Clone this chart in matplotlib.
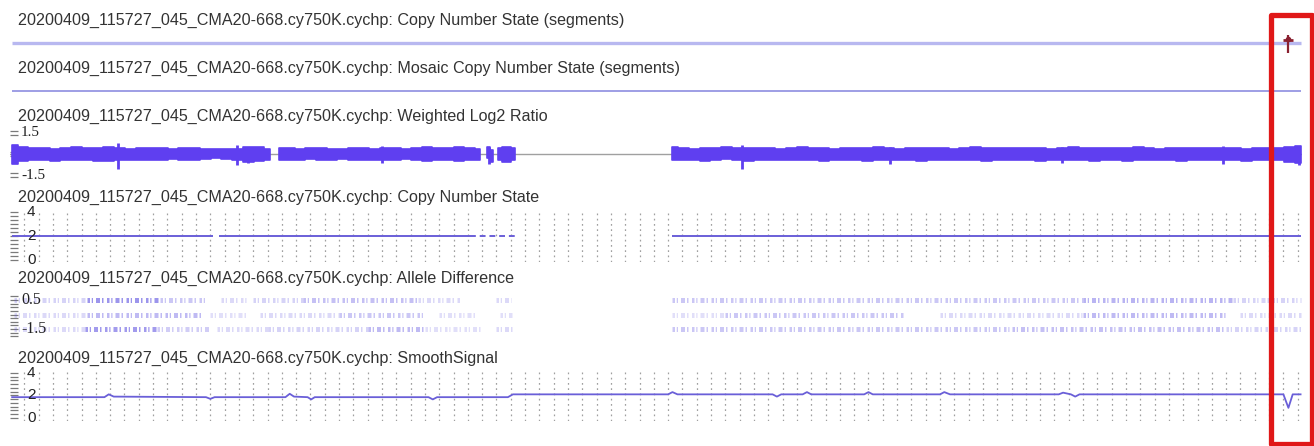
import numpy as np
import matplotlib
matplotlib.use("Agg")
import matplotlib.pyplot as plt
from matplotlib.patches import Rectangle

# ---------------- data ----------------
sample_prefix = "20200409_115727_045_CMA20-668.cy750K.cychp: "
track_titles = ["Copy Number State (segments)", "Mosaic Copy Number State (segments)",
                "Weighted Log2 Ratio", "Copy Number State", "Allele Difference", "SmoothSignal"]

chrom_len = 180.6                      # Mb shown
grid_x = list(range(2, 181, 2))        # dotted gridline positions (Mb)

# segment tracks
seg_start, seg_end, seg_value = 0.3, 180.4, 2
loss_marker_pos = 178.7

# weighted log2 ratio: band envelope read per data block (start, end, upper, lower)
log2_A = (0.3, 36.3,
          [0.62, 0.48, 0.40, 0.44, 0.36, 0.42, 0.46, 0.38, 0.43, 0.50, 0.41, 0.37, 0.44,
           0.38, 0.41, 0.35, 0.39, 0.43, 0.37, 0.34, 0.31, 0.36, 0.46, 0.50, 0.36],
          [-0.66, -0.46, -0.41, -0.38, -0.46, -0.40, -0.39, -0.43, -0.46, -0.50, -0.42, -0.38, -0.41,
           -0.43, -0.38, -0.36, -0.41, -0.38, -0.35, -0.30, -0.33, -0.41, -0.55, -0.50, -0.40])
log2_B = (37.6, 65.7,
          [0.38, 0.42, 0.36, 0.40, 0.44, 0.37, 0.35, 0.41, 0.39, 0.36,
           0.43, 0.40, 0.37, 0.42, 0.45, 0.38, 0.41, 0.47, 0.40, 0.36],
          [-0.40, -0.44, -0.38, -0.36, -0.42, -0.39, -0.37, -0.43, -0.40, -0.38,
           -0.41, -0.44, -0.37, -0.40, -0.46, -0.39, -0.42, -0.48, -0.41, -0.38])
log2_C = (66.7, 67.5, [0.45, 0.30], [-0.30, -0.55])
log2_D = (68.2, 70.6, [0.42, 0.50, 0.44], [-0.44, -0.52, -0.40])
log2_E = (92.6, 180.4,
          [0.46, 0.40, 0.37, 0.43, 0.39, 0.45, 0.41, 0.38, 0.44, 0.40,
           0.36, 0.42, 0.47, 0.39, 0.41, 0.37, 0.43, 0.40, 0.38, 0.45,
           0.42, 0.36, 0.40, 0.44, 0.39, 0.41, 0.37, 0.43, 0.46, 0.40,
           0.38, 0.42, 0.39, 0.44, 0.41, 0.37, 0.40, 0.45, 0.42, 0.38,
           0.41, 0.39, 0.43, 0.47, 0.40, 0.37, 0.42, 0.39, 0.44, 0.41,
           0.38, 0.40, 0.43, 0.37, 0.41, 0.39, 0.44, 0.46, 0.55],
          [-0.44, -0.41, -0.38, -0.45, -0.40, -0.37, -0.43, -0.46, -0.39, -0.42,
           -0.40, -0.44, -0.38, -0.41, -0.47, -0.39, -0.42, -0.40, -0.45, -0.38,
           -0.41, -0.43, -0.39, -0.46, -0.40, -0.38, -0.44, -0.41, -0.39, -0.45,
           -0.42, -0.38, -0.44, -0.40, -0.47, -0.41, -0.39, -0.43, -0.40, -0.46,
           -0.38, -0.42, -0.45, -0.40, -0.39, -0.44, -0.41, -0.48, -0.40, -0.43,
           -0.39, -0.42, -0.40, -0.45, -0.38, -0.43, -0.41, -0.52, -0.60])
log2_blocks = [log2_A, log2_B, log2_C, log2_D, log2_E]
spike_x = [15.1, 31.7, 33.3, 52.0, 66.9, 102.3, 123.0, 147.0, 169.6, 180.2]
spike_hi = [0.75, 0.60, 0.50, 0.55, 0.50, 0.60, 0.50, 0.50, 0.55, 0.55]
spike_lo = [-1.00, -0.75, -0.60, -0.60, -0.70, -1.05, -0.70, -0.65, -0.70, -0.75]

# copy number state
cn_value = 2
cn_solid = [(0.3, 28.4), (29.2, 64.3), (92.6, 180.4)]
cn_sparse = [(64.3, 70.6)]

# allele difference rows: (start, end, density)
allele_levels = [0.5, -0.5, -1.5]
allele_top = [(0.5, 10.8, 0.35), (10.8, 21.0, 0.85), (21.0, 27.5, 0.45), (29.5, 33.0, 0.3),
              (34.0, 41.0, 0.35), (41.0, 57.0, 0.5), (57.0, 63.0, 0.3), (68.0, 70.0, 0.3),
              (92.6, 150.0, 0.45), (150.0, 171.0, 0.6), (171.0, 180.4, 0.35)]
allele_mid = [(0.5, 10.8, 0.3), (10.8, 27.0, 0.55), (28.0, 33.0, 0.25), (35.0, 46.0, 0.3),
              (46.0, 58.0, 0.45), (60.0, 65.0, 0.25), (68.5, 70.2, 0.25), (92.6, 100.0, 0.25),
              (100.0, 125.0, 0.45), (130.0, 150.0, 0.3), (150.0, 170.0, 0.55), (172.0, 180.4, 0.3)]
allele_bot = [(0.5, 10.5, 0.3), (10.5, 20.5, 0.8), (20.5, 28.0, 0.4), (29.0, 36.0, 0.3),
              (36.0, 50.0, 0.35), (50.0, 58.0, 0.55), (58.0, 66.0, 0.25), (68.0, 70.4, 0.3),
              (92.6, 140.0, 0.45), (140.0, 170.0, 0.5), (170.0, 180.4, 0.35)]
allele_rows = [allele_top, allele_mid, allele_bot]

# smooth signal
sm_x = [0.3, 8.0, 13.2, 13.8, 14.5, 27.4, 28.0, 28.6, 38.5, 39.1, 39.7, 41.6, 42.1, 42.6,
        58.5, 59.1, 59.7, 69.6, 70.3, 92.0, 92.6, 93.3, 106.6, 107.2, 107.8, 110.8, 111.4,
        112.0, 119.4, 120.0, 120.6, 130.0, 130.6, 131.4, 146.6, 147.2, 148.3, 148.9, 149.5,
        178.0, 178.7, 179.3, 180.4]
sm_y = [1.85, 1.85, 1.85, 2.1, 1.9, 1.85, 1.7, 1.85, 1.85, 2.15, 1.9, 1.85, 1.65, 1.85,
        1.85, 1.65, 1.85, 1.85, 2.1, 2.1, 2.3, 2.1, 2.1, 1.9, 2.1, 2.1, 2.3,
        2.1, 2.1, 2.3, 2.1, 2.1, 2.3, 2.1, 2.1, 2.25, 2.1, 1.9, 2.1,
        2.1, 0.9, 2.1, 2.1]

# axis labels
log2_ticks, log2_labels = [1.5, -1.5], ["1.5", "-1.5"]
cn_ticks, cn_labels = [4, 2, 0], ["4", "2", "0"]
allele_ticks, allele_labels = [0.5, -1.5], ["0.5", "-1.5"]
smooth_ticks, smooth_labels = [4, 2, 0], ["4", "2", "0"]

# ---------------- layout / style ----------------
W, H = 1314, 446
fig = plt.figure(figsize=(W / 100, H / 100), dpi=100)
fig.patch.set_facecolor("white")

SANS = ["Liberation Sans", "DejaVu Sans"]
SERIF = ["Liberation Serif", "DejaVu Serif"]
TITLE_C = "#333333"
BAND_C = "#5f3ff0"
LINE_C = "#6a5fd8"
GRID_C = "#a0a0a0"
TICK_C = "#7a7a7a"

L_PX, R_PX = 10, 1302


def track_axes(top, bottom, ylim, minor):
    ax = fig.add_axes([L_PX / W, 1 - bottom / H, (R_PX - L_PX) / W, (bottom - top) / H])
    ax.set_xlim(0, chrom_len)
    ax.set_ylim(*ylim)
    ax.patch.set_alpha(0)
    for s in ax.spines.values():
        s.set_visible(False)
    ax.xaxis.set_visible(False)
    ax.set_yticks(minor)
    ax.set_yticklabels([])
    ax.tick_params(axis="y", direction="in", length=6, width=0.9, color=TICK_C)
    return ax


def labels(ax, ticks, labs, xoff_px, family, size):
    for t, l in zip(ticks, labs):
        ax.annotate(l, xy=(0, t), xycoords=("axes fraction", "data"),
                    xytext=(xoff_px, 0), textcoords="offset pixels",
                    ha="left", va="center", fontsize=size, family=family, color="#222222")


title_y = [20, 68, 116, 197, 278, 358]
for t, y in zip(track_titles, title_y):
    fig.text(18 / W, 1 - y / H, sample_prefix + t, ha="left", va="center",
             fontsize=11.6, family=SANS, color=TITLE_C)

# track 1: copy number state segments
ax1 = track_axes(36, 50, (1.5, 2.5), [])
ax1.hlines(seg_value, seg_start, seg_end, color="#b8b8f0", lw=2.4)
ax1.vlines(loss_marker_pos, 1.3, 2.55, color="#8a2030", lw=1.6, clip_on=False)
ax1.plot([loss_marker_pos], [2.22], marker="_", ms=7, mew=2, color="#8a2030", clip_on=False)
ax1.plot([loss_marker_pos], [2.3], marker="o", ms=3, color="#8a2030", clip_on=False)

# track 2: mosaic segments
ax2 = track_axes(84, 98, (1.5, 2.5), [])
ax2.hlines(seg_value, seg_start, seg_end, color="#8e8ee0", lw=1.2)

# track 3: weighted log2 ratio
ax3 = track_axes(131, 177, (-1.5, 1.5), [1.58, 1.32, 0.12, -0.12, -1.32, -1.58])
ax3.axhline(0, color="#a0a0a0", lw=1.0, zorder=1)
for start, end, hi, lo in log2_blocks:
    xs = np.linspace(start, end, len(hi))
    ax3.fill_between(xs, lo, hi, step="mid", color=BAND_C, lw=1.2, edgecolor=BAND_C, zorder=2)
ax3.vlines(spike_x, spike_lo, spike_hi, color=BAND_C, lw=2.0, zorder=3)
labels(ax3, log2_ticks, log2_labels, 11, SERIF, 11)

# track 4: copy number state
cn_minor = list(np.linspace(0, 4, 13))
ax4 = track_axes(209.6, 262.4, (-0.2, 4.2), cn_minor)
ax4.vlines(grid_x, -0.2, 4.2, colors=GRID_C, linestyles=(0, (1.4, 2.8)), lw=0.9, zorder=1)
for s, e in cn_solid:
    ax4.hlines(cn_value, s, e, color=LINE_C, lw=1.4, zorder=2)
for s, e in cn_sparse:
    ax4.hlines(cn_value, s, e, color=LINE_C, lw=1.4, linestyles=(0, (3, 2)), zorder=2)
labels(ax4, cn_ticks, cn_labels, 17, SANS, 11)

# track 5: allele difference
al_minor = list(np.linspace(-2.0, 0.75, 12))
ax5 = track_axes(292.75, 336.25, (-2.0, 1.0), al_minor)
for lvl, row in zip(allele_levels, allele_rows):
    for s, e, d in row:
        ax5.hlines(lvl, s, e, color="#5a4de0", alpha=d * 0.7, lw=3.6,
                   linestyles=(0, (0.5, 0.35, 0.25, 0.6, 0.8, 0.4, 0.3, 0.7)), zorder=2)
labels(ax5, allele_ticks, allele_labels, 11, SERIF, 11.5)

# track 6: smooth signal
sm_minor = list(np.linspace(0, 4, 13))
ax6 = track_axes(369.6, 421.35, (-0.3, 4.3), sm_minor)
ax6.vlines(grid_x, -0.3, 4.3, colors=GRID_C, linestyles=(0, (1.4, 2.8)), lw=0.9, zorder=1)
ax6.plot(sm_x, sm_y, color=LINE_C, lw=1.3, zorder=2)
labels(ax6, smooth_ticks, smooth_labels, 17, SANS, 11)

# red highlight box
fig.patches.append(Rectangle((1270.5 / W, 1 - 443.5 / H), 41 / W, 429 / H,
                             transform=fig.transFigure, fill=False,
                             edgecolor="#e01818", lw=3.8, joinstyle="round"))

fig.savefig("out.png", dpi=100, facecolor="white")
